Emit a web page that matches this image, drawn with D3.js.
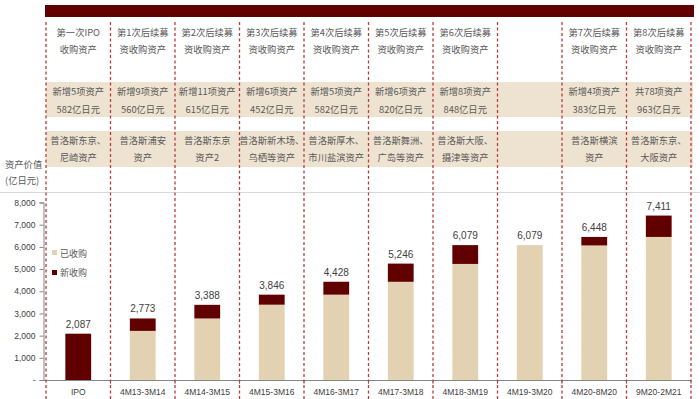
<!DOCTYPE html>
<html>
<head>
<meta charset="utf-8">
<script src="https://cdn.jsdelivr.net/npm/d3@7"></script>
<style>
  body { margin: 0; background: #fff; }
  svg { display: block; font-family: "Noto Sans CJK SC", "Noto Sans", sans-serif; }
</style>
</head>
<body>
<svg width="700" height="399"></svg>
<script>
// Data
const periods = ["IPO", "4M13-3M14", "4M14-3M15", "4M15-3M16", "4M16-3M17", "4M17-3M18",
                 "4M18-3M19", "4M19-3M20", "4M20-8M20", "9M20-2M21"];
const totals = [2087, 2773, 3388, 3846, 4428, 5246, 6079, 6079, 6448, 7411];
const newAcq = [2087, 560, 615, 452, 582, 820, 848, 0, 383, 963];
const owned = totals.map((t, i) => t - newAcq[i]);

const roundTitle = [
  ["第一次IPO", "收购资产"], ["第1次后续募", "资收购资产"], ["第2次后续募", "资收购资产"],
  ["第3次后续募", "资收购资产"], ["第4次后续募", "资收购资产"], ["第5次后续募", "资收购资产"],
  ["第6次后续募", "资收购资产"], ["", ""], ["第7次后续募", "资收购资产"], ["第8次后续募", "资收购资产"]
];
const roundSize = [
  ["新增5项资产", "582亿日元"], ["新增9项资产", "560亿日元"], ["新增11项资产", "615亿日元"],
  ["新增6项资产", "452亿日元"], ["新增5项资产", "582亿日元"], ["新增6项资产", "820亿日元"],
  ["新增8项资产", "848亿日元"], ["", ""], ["新增4项资产", "383亿日元"], ["共78项资产", "963亿日元"]
];
const roundAssets = [
  ["普洛斯东京、", "尼崎资产"], ["普洛斯浦安", "资产"], ["普洛斯东京", "资产2"],
  ["普洛斯新木场、", "乌栖等资产"], ["普洛斯厚木、", "市川盐滨资产"], ["普洛斯舞洲、", "广岛等资产"],
  ["普洛斯大阪、", "摄津等资产"], ["", ""], ["普洛斯横滨", "资产"], ["普洛斯东京、", "大阪资产"]
];
const yTicks = [0, 1000, 2000, 3000, 4000, 5000, 6000, 7000, 8000];
const legendItems = [["已收购", "#e2d2b2"], ["新收购", "#600000"]];

const darkRed = "#600000", beige = "#e2d2b2", bandBeige = "#eee3d0", textCol = "#404040";

const svg = d3.select("svg");

// Column and bar scales
const col = d3.scaleBand().domain(periods).range([46, 691]).padding(0);
const x = d3.scaleBand().domain(periods).range([46, 691]).paddingInner(0.6).paddingOuter(0.3);
const y = d3.scaleLinear().domain([0, 8000]).range([380, 202.5]);

// Top header bar
svg.append("rect")
    .attr("x", 45).attr("y", 5).attr("width", 649).attr("height", 12)
    .attr("fill", darkRed);

// Beige header bands
[[82, 35], [131, 36]].forEach(([by, bh]) => {
  svg.append("rect")
      .attr("x", 46).attr("y", by).attr("width", 647).attr("height", bh)
      .attr("fill", bandBeige);
});

// Grey separator line
svg.append("line")
    .attr("x1", 0).attr("x2", 700).attr("y1", 192.5).attr("y2", 192.5)
    .attr("stroke", "#d9d9d9");

// Header text rows
function textRows(rows, y1, y2) {
  periods.forEach((p, i) => {
    const cx = col(p) + col.bandwidth() / 2;
    [y1, y2].forEach((ty, j) => {
      svg.append("text")
          .attr("x", cx).attr("y", ty)
          .attr("text-anchor", "middle").attr("dominant-baseline", "central")
          .attr("font-size", 9.3).attr("fill", "#595959")
          .text(rows[i][j]);
    });
  });
}
textRows(roundTitle, 32, 49);
textRows(roundSize, 91, 109);
textRows(roundAssets, 140, 157);

// Y axis title
svg.append("text").attr("x", 5).attr("y", 164).attr("dominant-baseline", "central")
    .attr("font-size", 9.3).attr("fill", "#595959").text("资产价值");
svg.append("text").attr("x", 5).attr("y", 180).attr("dominant-baseline", "central")
    .attr("font-size", 9.3).attr("fill", "#595959").text("(亿日元)");

// Y axis
const yAxis = svg.append("g")
    .attr("transform", "translate(43.5,0)")
    .call(d3.axisLeft(y).tickValues(yTicks).tickSize(4).tickPadding(4)
        .tickFormat(d => d === 0 ? "-" : d3.format(",")(d)));
yAxis.select(".domain").attr("stroke", "#868686");
yAxis.selectAll(".tick line").attr("stroke", "#868686");
yAxis.selectAll("text").attr("font-size", 8.5).attr("fill", textCol)
    .attr("font-family", "Liberation Sans, Arial, sans-serif");

// X axis line and ticks
svg.append("line")
    .attr("x1", 43.5).attr("x2", 691).attr("y1", 380.5).attr("y2", 380.5)
    .attr("stroke", "#868686");
svg.selectAll("xTicks")
    .data(periods.slice(1).concat(["end"]))
    .enter()
    .append("line")
    .attr("x1", d => d === "end" ? 691 : col(d))
    .attr("x2", d => d === "end" ? 691 : col(d))
    .attr("y1", 380.5).attr("y2", 384)
    .attr("stroke", "#868686");

// X labels
svg.selectAll("xLabels")
    .data(periods)
    .enter()
    .append("text")
    .attr("x", d => x(d) + x.bandwidth() / 2)
    .attr("y", 392)
    .attr("text-anchor", "middle").attr("dominant-baseline", "central")
    .attr("font-size", 8.5).attr("fill", textCol)
    .attr("font-family", "Liberation Sans, Arial, sans-serif")
    .text(d => d);

// Bars: already owned
svg.selectAll("ownedBars")
    .data(periods)
    .enter()
    .append("rect")
    .attr("x", d => x(d))
    .attr("width", x.bandwidth())
    .attr("y", (d, i) => y(owned[i]))
    .attr("height", (d, i) => y(0) - y(owned[i]))
    .attr("fill", beige);

// Bars: newly acquired
svg.selectAll("newBars")
    .data(periods)
    .enter()
    .append("rect")
    .attr("x", d => x(d))
    .attr("width", x.bandwidth())
    .attr("y", (d, i) => y(totals[i]))
    .attr("height", (d, i) => y(owned[i]) - y(totals[i]))
    .attr("fill", darkRed);

// Total labels
svg.selectAll("totLabels")
    .data(periods)
    .enter()
    .append("text")
    .attr("x", d => x(d) + x.bandwidth() / 2)
    .attr("y", (d, i) => y(totals[i]) - 6)
    .attr("text-anchor", "middle")
    .attr("font-size", 10).attr("fill", textCol)
    .attr("font-family", "Liberation Sans, Arial, sans-serif")
    .text((d, i) => d3.format(",")(totals[i]));

// Dashed column separators
svg.selectAll("sepLines")
    .data(periods.concat(["end"]))
    .enter()
    .append("line")
    .attr("x1", d => d === "end" ? 691 : col(d))
    .attr("x2", d => d === "end" ? 691 : col(d))
    .attr("y1", 22).attr("y2", 399)
    .attr("stroke", "#b83c3c")
    .attr("stroke-width", 1.3)
    .attr("stroke-dasharray", "3,2.5");

// Legend
legendItems.forEach(([name, color], i) => {
  svg.append("rect")
      .attr("x", 52).attr("y", 250 + i * 20).attr("width", 5).attr("height", 5)
      .attr("fill", color);
  svg.append("text")
      .attr("x", 60).attr("y", 253 + i * 19.5)
      .attr("dominant-baseline", "central")
      .attr("font-size", 9).attr("fill", "#595959")
      .text(name);
});
</script>
</body>
</html>
